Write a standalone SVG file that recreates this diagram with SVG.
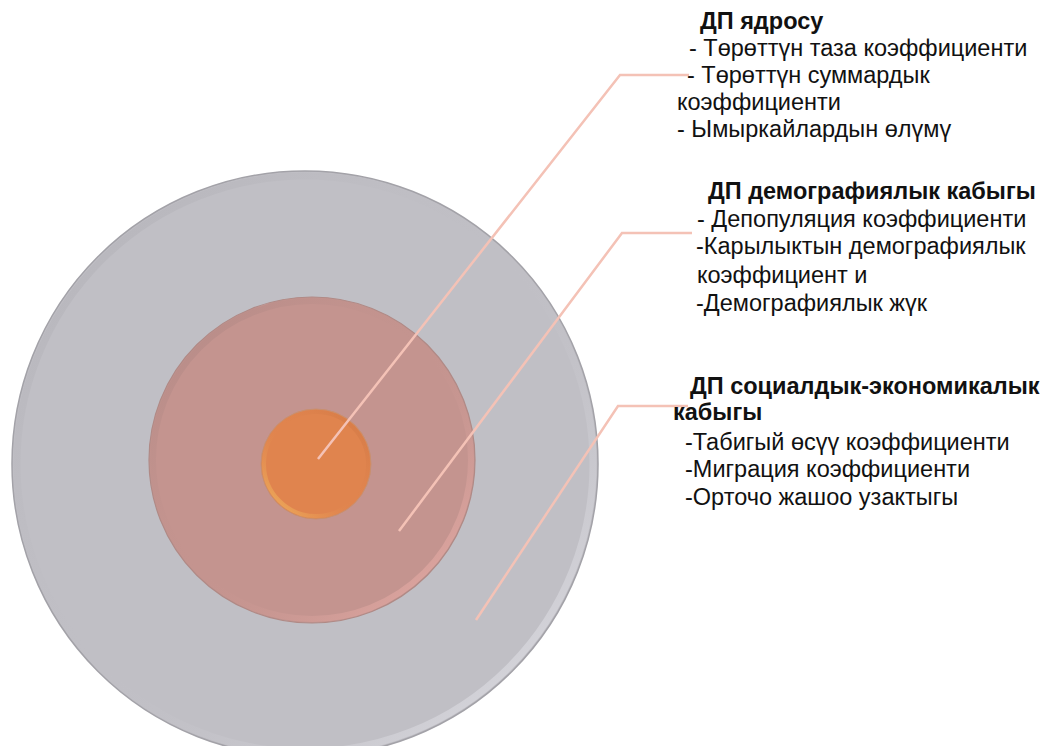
<svg xmlns="http://www.w3.org/2000/svg" width="1047" height="746" viewBox="0 0 1047 746">
<style>
.t{font-family:"Liberation Sans",Arial,sans-serif;font-size:23.5px;fill:#111}
.b{font-weight:bold}
.conn{fill:none;stroke:#f4c2b6;stroke-width:2.5;stroke-linejoin:miter}
</style>
<defs>
<linearGradient id="rimGrey" x1="0" y1="0" x2="1" y2="1">
<stop offset="0" stop-color="#a9a8ae" stop-opacity="0.6"/>
<stop offset="0.5" stop-color="#c0bfc5" stop-opacity="0"/>
<stop offset="1" stop-color="#e8e8ee" stop-opacity="0.9"/>
</linearGradient>
<linearGradient id="rimPink" x1="0" y1="0" x2="1" y2="1">
<stop offset="0" stop-color="#a98380" stop-opacity="0.7"/>
<stop offset="0.5" stop-color="#c4948f" stop-opacity="0"/>
<stop offset="1" stop-color="#f1b2ac" stop-opacity="0.9"/>
</linearGradient>
<linearGradient id="rimOrange" x1="1" y1="0" x2="0" y2="1">
<stop offset="0" stop-color="#c8703e" stop-opacity="0.6"/>
<stop offset="0.5" stop-color="#e0844e" stop-opacity="0"/>
<stop offset="1" stop-color="#f5c060" stop-opacity="0.9"/>
</linearGradient>
</defs>
<rect width="1047" height="746" fill="#fff"/>
<g id="layer-socioeconomic">
<circle cx="305" cy="464" r="293" fill="#c0bfc5" stroke="#a3a2a8" stroke-width="1.5"/>
<circle cx="305" cy="464" r="288" fill="none" stroke="url(#rimGrey)" stroke-width="7"/>
</g>
<g id="layer-demographic">
<circle cx="312" cy="460" r="163" fill="#c4948f" stroke="#b08a86" stroke-width="1.2"/>
<circle cx="312" cy="460" r="159" fill="none" stroke="url(#rimPink)" stroke-width="6"/>
</g>
<g id="core">
<circle cx="316" cy="464" r="55" fill="#e0844e" stroke="#c89070" stroke-width="1"/>
<circle cx="316" cy="464" r="52" fill="none" stroke="url(#rimOrange)" stroke-width="4"/>
</g>
<g id="connectors">
<polyline class="conn" points="318,459 620,75 689,75"/>
<polyline class="conn" points="399,531 622,233 692,233"/>
<polyline class="conn" points="476,620 618,406 688,406"/>
</g>
<g id="label-core">
<text class="t b" x="700" y="29">ДП ядросу</text>
<text class="t" x="689" y="56">- Төрөттүн таза коэффициенти</text>
<text class="t" x="687" y="83">- Төрөттүн суммардык</text>
<text class="t" x="677" y="110">коэффициенти</text>
<text class="t" x="677" y="137">- Ымыркайлардын өлүмү</text>
</g>
<g id="label-demographic">
<text class="t b" x="708" y="199">ДП демографиялык кабыгы</text>
<text class="t" x="697" y="227">- Депопуляция коэффициенти</text>
<text class="t" x="696" y="254">-Карылыктын демографиялык</text>
<text class="t" x="697" y="283">коэффициент и</text>
<text class="t" x="696" y="311">-Демографиялык жүк</text>
</g>
<g id="label-socioeconomic">
<text class="t b" x="690" y="394">ДП социалдык-экономикалык</text>
<text class="t b" x="673" y="420">кабыгы</text>
<text class="t" x="685" y="450">-Табигый өсүү коэффициенти</text>
<text class="t" x="685" y="477">-Миграция коэффициенти</text>
<text class="t" x="685" y="505">-Орточо жашоо узактыгы</text>
</g>
</svg>
